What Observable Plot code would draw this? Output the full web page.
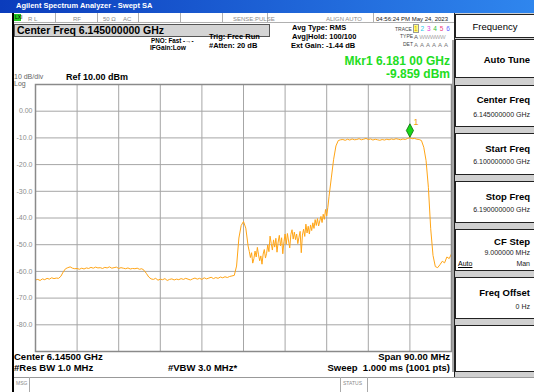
<!DOCTYPE html>
<html><head><meta charset="utf-8">
<script src="https://cdn.jsdelivr.net/npm/d3@7"></script>
<script src="https://cdn.jsdelivr.net/npm/@observablehq/plot@0.6"></script>
<style>
html,body{margin:0;padding:0;background:#fff;}
#root{position:relative;width:534px;height:392px;overflow:hidden;font-family:"Liberation Sans",Arial,sans-serif;color:#000;background:#fff;}
.a{position:absolute;white-space:nowrap;line-height:1;}
.b{font-weight:bold;}
.box{position:absolute;box-sizing:border-box;}
.sk{position:absolute;left:455px;width:79px;box-sizing:border-box;background:#fff;border:1px solid #222;border-right:none;}
.skt{position:absolute;right:4px;font-weight:bold;font-size:9.5px;line-height:1;white-space:nowrap;}
.skv{position:absolute;right:4px;font-size:7px;line-height:1;white-space:nowrap;color:#222;}
.cell{position:absolute;top:13px;height:10px;box-sizing:border-box;border-right:1px solid #b0b0b0;}
.tiny{font-size:6px;color:#8a8a8a;}
#plotwrap{position:absolute;left:0;top:76px;}
</style></head><body><div id="root">
<!-- title bar -->
<div class="box" style="left:0;top:0;width:534px;height:13px;background:linear-gradient(to right,#0b3cbc,#2f86ee);"></div>
<div class="a b" style="left:16px;top:2.3px;font-size:7.5px;color:#fff;">Agilent Spectrum Analyzer - Swept SA</div>
<!-- left black bar -->
<div class="box" style="left:12px;top:13px;width:2px;height:379px;background:#000;"></div>
<!-- status row -->
<div class="box" style="left:14px;top:13px;width:440px;height:10px;border-bottom:1px solid #b0b0b0;"></div>
<div class="box" style="left:14px;top:14px;width:7px;height:7px;background:#21c821;"></div>
<div class="a" style="left:15px;top:15px;font-size:5px;color:#000;">LXI</div>
<div class="cell" style="left:14px;width:42px;"></div>
<div class="cell" style="left:56px;width:42px;"></div>
<div class="cell" style="left:98px;width:41px;"></div>
<div class="cell" style="left:139px;width:42px;"></div>
<div class="cell" style="left:181px;width:42px;"></div>
<div class="cell" style="left:223px;width:45px;"></div>
<div class="cell" style="left:268px;width:106px;"></div>
<div class="a tiny" style="left:28px;top:15.5px;">R L</div>
<div class="a tiny" style="left:73px;top:15.5px;">RF</div>
<div class="a tiny" style="left:103px;top:15.5px;">50 Ω</div>
<div class="a tiny" style="left:123px;top:15.5px;">AC</div>
<div class="a tiny" style="left:233px;top:15.5px;">SENSE:PULSE</div>
<div class="a tiny" style="left:326px;top:15.5px;">ALIGN AUTO</div>
<div class="a" style="left:376px;top:15.5px;font-size:6px;color:#222;">04:56:24 PM May 24, 2023</div>
<!-- center freq box -->
<div class="box" style="left:14px;top:24px;width:256px;height:13px;background:#d4d4d4;border:1px solid #555;"></div>
<div class="a b" style="left:17px;top:25.2px;font-size:10.5px;">Center Freq 6.145000000 GHz</div>
<!-- settings -->
<div class="a b" style="left:151px;top:38.2px;font-size:6.3px;">PNO: Fast</div>
<div class="a b" style="left:183px;top:37.8px;font-size:6.3px;">-→-</div>
<div class="a b" style="left:150px;top:45.4px;font-size:6.6px;">IFGain:Low</div>
<div class="a b" style="left:209px;top:32.6px;font-size:7.5px;">Trig: Free Run</div>
<div class="a b" style="left:209px;top:42.4px;font-size:7.5px;">#Atten: 20 dB</div>
<div class="a b" style="left:292px;top:24.3px;font-size:7.5px;">Avg Type: RMS</div>
<div class="a b" style="left:292px;top:33.3px;font-size:7.5px;">Avg|Hold: 100/100</div>
<div class="a b" style="left:291px;top:42.3px;font-size:7.5px;">Ext Gain: -1.44 dB</div>
<div class="a" style="left:395px;top:26.5px;font-size:5px;color:#444;">TRACE</div>
<div class="a" style="left:400px;top:34.3px;font-size:5px;color:#444;">TYPE</div>
<div class="a" style="left:403px;top:41.8px;font-size:5px;color:#444;">DET</div>
<div class="a" style="left:414px;top:25.8px;font-size:6.5px;letter-spacing:0.5px;"><span style="color:#e0a000;background:#ffff80;outline:1px solid #999;">1</span> <span style="color:#20c8e8">2</span> <span style="color:#e040e0">3</span> <span style="color:#30c030">4</span> <span style="color:#f04080">5</span> <span style="color:#6060ff">6</span></div>
<div class="a" style="left:414px;top:34px;font-size:6px;color:#555;">A <span style="color:#aaa;letter-spacing:-0.5px;">WWWWW</span></div>
<div class="a" style="left:414px;top:41.5px;font-size:6px;color:#777;letter-spacing:0.5px;">A A A A A A</div>
<!-- marker readout -->
<div class="a b" style="right:84px;top:55.4px;font-size:12px;color:#22dd22;">Mkr1 6.181 00 GHz</div>
<div class="a b" style="right:84px;top:68.2px;font-size:12px;color:#22dd22;">-9.859 dBm</div>
<!-- scale info -->
<div class="a" style="left:14px;top:73.2px;font-size:7px;color:#666;">10 dB/div</div>
<div class="a" style="left:14px;top:80.4px;font-size:7px;color:#666;">Log</div>
<div class="a b" style="left:66px;top:72.6px;font-size:9px;">Ref 10.00 dBm</div>
<!-- right separator -->
<div class="box" style="left:452px;top:40px;width:3px;height:332px;background:#a8a8a8;"></div>
<!-- softkey panel -->
<div class="box" style="left:454px;top:13px;width:80px;height:364px;background:#d0d0d0;border-left:1px solid #222;"></div>
<div class="sk" style="top:14px;height:24px;"><div class="a" style="left:0;width:78px;text-align:center;top:7px;font-size:9.5px;">Frequency</div></div>
<div class="sk" style="top:39px;height:39px;"><div class="skt" style="top:14.5px;">Auto Tune</div></div>
<div class="sk" style="top:85px;height:42px;"><div class="skt" style="top:8.5px;">Center Freq</div><div class="skv" style="top:24.5px;">6.145000000 GHz</div></div>
<div class="sk" style="top:133px;height:42px;"><div class="skt" style="top:9.5px;">Start Freq</div><div class="skv" style="top:23.5px;">6.100000000 GHz</div></div>
<div class="sk" style="top:181px;height:42px;"><div class="skt" style="top:9.5px;">Stop Freq</div><div class="skv" style="top:23.5px;">6.190000000 GHz</div></div>
<div class="sk" style="top:229px;height:42px;"><div class="skt" style="top:7px;">CF Step</div><div class="skv" style="top:19px;">9.000000 MHz</div><div class="a" style="left:2px;top:30px;font-size:7px;text-decoration:underline;">Auto</div><div class="skv" style="top:30px;">Man</div></div>
<div class="sk" style="top:277px;height:42px;"><div class="skt" style="top:9.5px;">Freq Offset</div><div class="skv" style="top:24.5px;">0 Hz</div></div>
<div class="sk" style="top:325px;height:47px;"></div>
<!-- bottom annotations -->
<div class="a b" style="left:14px;top:351.8px;font-size:9.5px;">Center 6.14500 GHz</div>
<div class="a b" style="right:84px;top:351.8px;font-size:9.5px;">Span 90.00 MHz</div>
<div class="a b" style="left:14px;top:363.4px;font-size:9.5px;">#Res BW 1.0 MHz</div>
<div class="a b" style="left:168px;top:363.4px;font-size:9.5px;">#VBW 3.0 MHz*</div>
<div class="a b" style="right:84px;top:363.4px;font-size:9.5px;">Sweep&nbsp;&nbsp;1.000 ms (1001 pts)</div>
<!-- message bar -->
<div class="box" style="left:14px;top:377px;width:520px;height:15px;background:#fff;border-top:1px solid #999;"></div>
<div class="box" style="left:29px;top:377px;width:1px;height:15px;background:#aaa;"></div>
<div class="box" style="left:340px;top:377px;width:1px;height:15px;background:#aaa;"></div>
<div class="box" style="left:367px;top:377px;width:1px;height:15px;background:#aaa;"></div>
<div class="a tiny" style="left:16px;top:381px;font-size:5px;">MSG</div>
<div class="a tiny" style="left:343px;top:381px;font-size:5px;">STATUS</div>
<div id="plotwrap"></div>
</div>
<script>
// Segment A: 6100.0 – 6146.0 MHz, every 0.5 MHz
const segAStart = 6100.0, segAStep = 0.5;
const segADbm = [
  -63.2, -63.0, -63.4, -62.8, -63.1, -62.6, -62.9, -62.4, -62.7, -62.5, -62.6,
  -61.8, -60.2, -59.0, -58.6, -58.3, -58.8,
  -59.0, -58.9, -59.2, -58.8, -59.1, -58.7, -58.9, -58.5, -58.8, -58.4,
  -58.7, -58.6, -58.9, -58.5, -58.7, -58.3, -58.8, -58.6, -58.4, -58.9,
  -58.6, -58.8, -59.0, -58.7, -59.1, -58.9, -59.0, -58.8, -59.2, -59.0,
  -59.6, -60.8, -62.1, -62.8,
  -63.0, -62.6, -63.3, -62.9, -63.1, -62.7, -63.4, -63.0, -62.8, -63.2,
  -62.9, -63.1, -62.7, -63.0, -62.6, -62.9, -63.2, -62.8, -62.5, -62.9,
  -62.6, -63.0, -62.4, -62.8, -62.5, -62.2, -62.7, -62.3, -62.6, -62.1,
  -62.4, -62.0, -62.3, -61.9, -61.7,
  -61.5, -58.0, -47.5, -42.8, -41.3, -43.8, -50.5
];
// Segment B: 6146.25 – 6163.5 MHz, every 0.25 MHz (noisy skirt)
const segBStart = 6146.25, segBStep = 0.25;
const segBDbm = [
  -52.5, -54.8, -53.0, -56.9, -55.2, -52.4, -54.6, -51.0, -53.8, -56.0,
  -54.2, -57.3, -53.5, -51.8, -55.0, -53.2, -50.1, -52.6, -46.8, -49.5,
  -52.0, -48.2, -50.9, -47.6, -52.8, -49.0, -46.5, -50.4, -47.4, -53.4,
  -48.9, -46.0, -49.8, -45.8, -48.6, -51.2, -46.1, -44.4, -47.9, -45.3,
  -48.1, -46.0, -49.6, -47.2, -45.0, -53.0, -46.4, -44.2, -46.9, -42.3,
  -45.6, -43.1, -46.0, -42.6, -44.7, -41.8, -43.9, -40.6, -42.8, -40.2,
  -43.0, -41.1, -39.4, -41.7, -38.6, -40.5, -36.8, -39.2, -36.0, -32.0
];
// Segment C: 6164.0 – 6190.0 MHz, every 0.5 MHz
const segCStart = 6164.0, segCStep = 0.5;
const segCDbm = [
  -25.0, -18.0, -13.0, -11.0, -10.7,
  -10.6, -10.9, -10.5, -10.8, -10.4, -10.7, -10.6, -10.3, -10.7, -10.5,
  -10.2, -10.6, -10.4, -10.8, -10.5, -10.7, -10.9, -10.6, -10.8, -10.5,
  -10.7, -10.4, -10.6, -10.3, -10.5, -10.7, -10.4, -10.6, -10.2, -9.9,
  -10.3, -10.2, -10.5, -10.6,
  -11.0, -13.5, -18.5, -28.5, -44.0, -54.0, -58.2, -58.6, -57.5, -56.2,
  -56.8, -54.6, -55.2, -53.4
];
const gridFreqMHz = [6100, 6109, 6118, 6127, 6136, 6145, 6154, 6163, 6172, 6181, 6190];
const gridDbm = [10, 0, -10, -20, -30, -40, -50, -60, -70, -80, -90];
const yTickDbm = [0, -10, -20, -30, -40, -50, -60, -70, -80];
const markerFreqMHz = [6181.0];
const markerDbm = [-9.859];
const markerLabel = ["1"];

const seg = (start, step, vals) => vals.map((v, i) => ({f: start + i * step, v}));
const trace = [
  ...seg(segAStart, segAStep, segADbm),
  ...seg(segBStart, segBStep, segBDbm),
  ...seg(segCStart, segCStep, segCDbm)
];
const markers = markerFreqMHz.map((f, i) => ({f, v: markerDbm[i], t: markerLabel[i]}));

const tallDiamond = {
  draw(ctx) {
    const w = 3.6, h = 6.7;
    ctx.moveTo(0, -h); ctx.lineTo(w, 0); ctx.lineTo(0, h); ctx.lineTo(-w, 0); ctx.closePath();
  }
};

const chart = Plot.plot({
  width: 455,
  height: 280,
  marginTop: 8,
  marginBottom: 5,
  marginLeft: 35,
  marginRight: 4,
  style: {background: "transparent", fontFamily: "'Liberation Sans', Arial, sans-serif", fontSize: "7px", color: "#8c8c8c", overflow: "visible"},
  x: {domain: [6100, 6190], axis: null},
  y: {domain: [-90, 10], ticks: yTickDbm, tickFormat: d => d === 0 ? "0.00" : d.toFixed(1), tickSize: 0, tickPadding: 3, label: null},
  marks: [
    Plot.ruleX(gridFreqMHz, {stroke: "#a6a6a6", strokeWidth: 1}),
    Plot.ruleY(gridDbm, {stroke: "#a6a6a6", strokeWidth: 1}),
    Plot.line(trace, {x: "f", y: "v", stroke: "#ffa516", strokeWidth: 1}),
    Plot.frame({stroke: "#8a8a8a", strokeWidth: 1.5}),
    Plot.dot(markers, {x: "f", y: "v", symbol: tallDiamond, fill: "#18d818", stroke: "#0a6a0a", strokeWidth: 0.8, dy: -7}),
    Plot.text(markers, {x: "f", y: "v", text: "t", dx: 6, dy: -15, fill: "#f0a010", fontSize: 9})
  ]
});
document.getElementById("plotwrap").appendChild(chart);
</script>
</body></html>
